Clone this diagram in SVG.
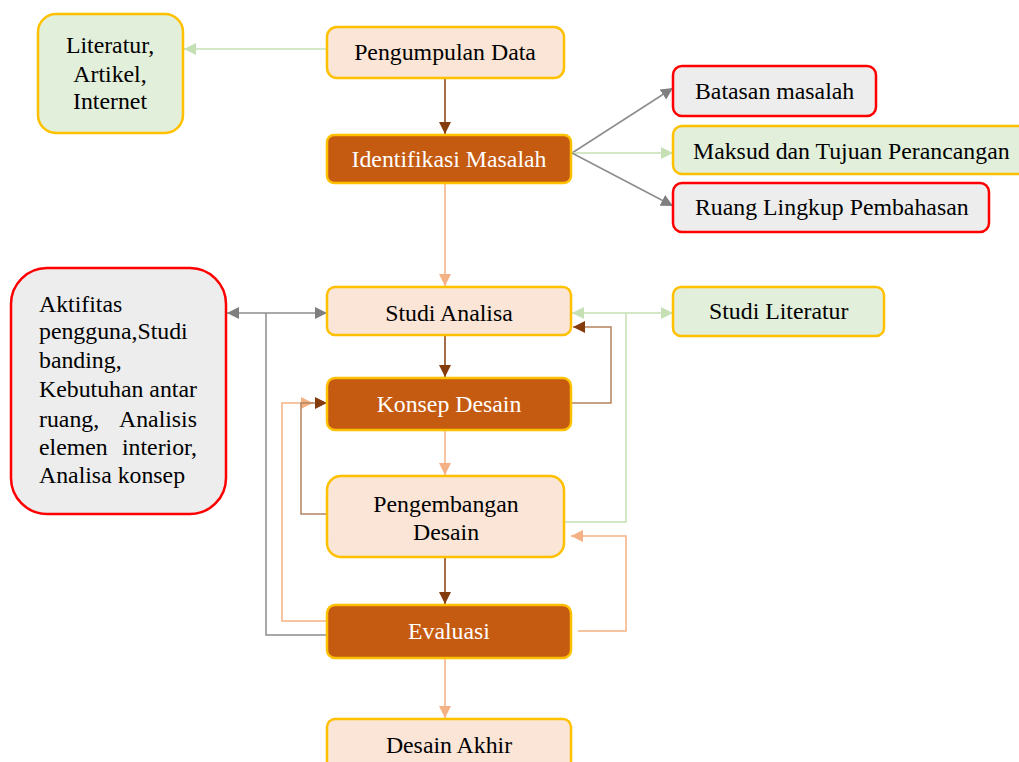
<svg xmlns="http://www.w3.org/2000/svg" width="1019" height="762" viewBox="0 0 1019 762">
<style>
.t{font-family:"Liberation Serif","Times New Roman",serif;font-size:23.8px;fill:#000}
.w{fill:#fff}
.c{text-anchor:middle}
.peach{fill:#fbe5d6;stroke:#ffc000;stroke-width:2.5}
.brown{fill:#c55a11;stroke:#ffc000;stroke-width:2.5}
.green{fill:#e2efda;stroke:#ffc000;stroke-width:2.5}
.grey{fill:#ededed;stroke:#ff0000;stroke-width:2.5}
.ln{fill:none;stroke-width:1.5}
</style>
<defs>
<marker id="aB" markerUnits="userSpaceOnUse" markerWidth="14" markerHeight="14" refX="12" refY="7" orient="auto-start-reverse"><path d="M0,1 L12,7 L0,13 Z" fill="#843c0c"/></marker>
<marker id="aO" markerUnits="userSpaceOnUse" markerWidth="14" markerHeight="14" refX="12" refY="7" orient="auto-start-reverse"><path d="M0,1 L12,7 L0,13 Z" fill="#f4b183"/></marker>
<marker id="aG" markerUnits="userSpaceOnUse" markerWidth="14" markerHeight="14" refX="12" refY="7" orient="auto-start-reverse"><path d="M0,1 L12,7 L0,13 Z" fill="#c5e0b4"/></marker>
<marker id="aY" markerUnits="userSpaceOnUse" markerWidth="14" markerHeight="14" refX="12" refY="7" orient="auto-start-reverse"><path d="M0,1 L12,7 L0,13 Z" fill="#7f7f7f"/></marker>
</defs>
<rect width="1019" height="762" fill="#fff"/>
<g id="connectors">
<line class="ln" x1="327" y1="49" x2="184" y2="49" stroke="#c5e0b4" marker-end="url(#aG)"/>
<line class="ln" x1="445" y1="78" x2="445" y2="134" stroke="#843c0c" marker-end="url(#aB)"/>
<line class="ln" x1="572" y1="153" x2="673" y2="88" stroke="#8c8c8c" marker-end="url(#aY)"/>
<line class="ln" x1="572" y1="153" x2="673" y2="153" stroke="#c5e0b4" marker-end="url(#aG)"/>
<line class="ln" x1="572" y1="153" x2="673" y2="206" stroke="#8c8c8c" marker-end="url(#aY)"/>
<line class="ln" x1="445" y1="183" x2="445" y2="286" stroke="#f4b183" marker-end="url(#aO)"/>
<line class="ln" x1="227" y1="313" x2="327" y2="313" stroke="#8c8c8c" marker-start="url(#aY)" marker-end="url(#aY)"/>
<polyline class="ln" points="266,313 266,635 327,635" stroke="#8c8c8c"/>
<line class="ln" x1="572" y1="313" x2="673" y2="313" stroke="#c5e0b4" marker-start="url(#aG)" marker-end="url(#aG)"/>
<polyline class="ln" points="626,313 626,522 565,522" stroke="#c5e0b4"/>
<line class="ln" x1="445" y1="335" x2="445" y2="377" stroke="#843c0c" marker-end="url(#aB)"/>
<polyline class="ln" points="571,403 611,403 611,327 573,327" stroke="#b4825f" marker-end="url(#aB)"/>
<line class="ln" x1="445" y1="430" x2="445" y2="475" stroke="#f4b183" marker-end="url(#aO)"/>
<polyline class="ln" points="327,621 282,621 282,403 313,403" stroke="#f4b183" marker-end="url(#aO)"/>
<polyline class="ln" points="327,514 301,514 301,403 327,403" stroke="#b4825f" marker-end="url(#aB)"/>
<line class="ln" x1="445" y1="557" x2="445" y2="604" stroke="#843c0c" marker-end="url(#aB)"/>
<polyline class="ln" points="578,631 626,631 626,536 571,536" stroke="#f4b183" marker-end="url(#aO)"/>
<line class="ln" x1="445" y1="658" x2="445" y2="718" stroke="#f4b183" marker-end="url(#aO)"/>
</g>
<g id="literatur"><rect class="green" x="38" y="14" width="145" height="119" rx="18"/>
<text class="t c" x="110" y="53">Literatur,</text><text class="t c" x="110" y="82">Artikel,</text><text class="t c" x="110" y="109">Internet</text></g>
<g id="pengumpulan"><rect class="peach" x="327" y="27" width="237" height="51" rx="10"/><text class="t c" x="445" y="60">Pengumpulan Data</text></g>
<g id="identifikasi"><rect class="brown" x="327" y="135" width="244" height="48" rx="7"/><text class="t c w" x="449" y="167">Identifikasi Masalah</text></g>
<g id="batasan"><rect class="grey" x="673" y="66" width="203" height="50" rx="9"/><text class="t" x="695" y="99">Batasan masalah</text></g>
<g id="maksud"><rect class="green" x="673" y="126" width="360" height="48" rx="9"/><text class="t" x="693" y="159">Maksud dan Tujuan Perancangan</text></g>
<g id="ruang"><rect class="grey" x="673" y="183" width="316" height="49" rx="9"/><text class="t" x="695" y="215">Ruang Lingkup Pembahasan</text></g>
<g id="aktifitas"><rect class="grey" x="11" y="268" width="215" height="246" rx="36"/>
<text class="t" x="39" y="312">Aktifitas</text>
<text class="t" x="39" y="339">pengguna,Studi</text>
<text class="t" x="39" y="368">banding,</text>
<text class="t" x="39" y="397">Kebutuhan antar</text>
<text class="t" x="39" y="427">ruang,</text><text class="t" x="197" y="427" text-anchor="end">Analisis</text>
<text class="t" x="39" y="455">elemen</text><text class="t" x="197" y="455" text-anchor="end">interior,</text>
<text class="t" x="39" y="483">Analisa konsep</text></g>
<g id="studi-analisa"><rect class="peach" x="327" y="287" width="244" height="48" rx="8"/><text class="t c" x="449" y="321">Studi Analisa</text></g>
<g id="studi-literatur"><rect class="green" x="673" y="287" width="211" height="49" rx="8"/><text class="t" x="709" y="319">Studi Literatur</text></g>
<g id="konsep"><rect class="brown" x="327" y="378" width="244" height="52" rx="8"/><text class="t c w" x="449" y="412">Konsep Desain</text></g>
<g id="pengembangan"><rect class="peach" x="327" y="476" width="237" height="81" rx="14"/><text class="t c" x="446" y="512">Pengembangan</text><text class="t c" x="446" y="540">Desain</text></g>
<g id="evaluasi"><rect class="brown" x="327" y="605" width="244" height="53" rx="8"/><text class="t c w" x="449" y="639">Evaluasi</text></g>
<g id="desain-akhir"><rect class="peach" x="327" y="719" width="244" height="60" rx="8"/><text class="t c" x="449" y="753">Desain Akhir</text></g>
</svg>
